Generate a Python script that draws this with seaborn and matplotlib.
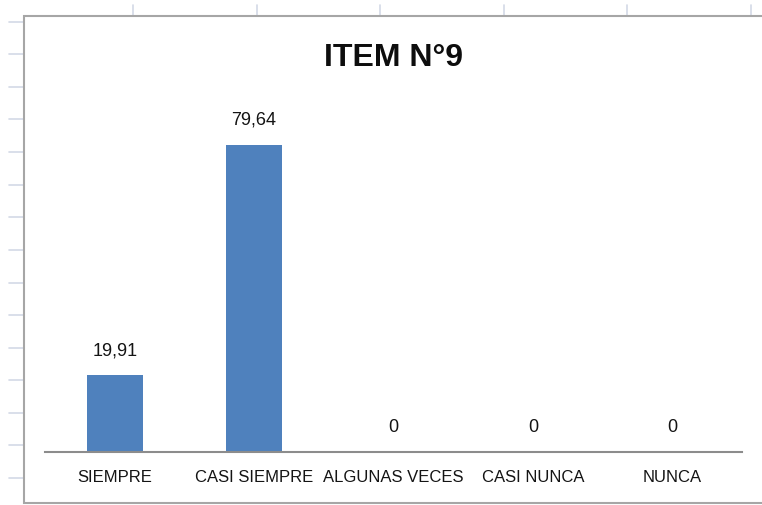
import matplotlib
matplotlib.use("Agg")
import matplotlib.pyplot as plt
from matplotlib.lines import Line2D
from matplotlib.patches import Rectangle
import seaborn as sns
import pandas as pd

categories = ["SIEMPRE", "CASI SIEMPRE", "ALGUNAS VECES", "CASI NUNCA", "NUNCA"]
values = [19.91, 79.64, 0, 0, 0]
value_labels = ["19,91", "79,64", "0", "0", "0"]
title = "ITEM N°9"

sns.set_theme(style="white")
plt.rcParams['font.family'] = ['Liberation Sans Narrow', 'Liberation Sans', 'DejaVu Sans']

W, H = 762, 505
fig = plt.figure(figsize=(W / 100, H / 100), dpi=100)
fig.patch.set_facecolor("white")

def fx(x):
    return x / W

def fy(y):
    return 1 - y / H

# spreadsheet grid stubs
grid_c = "#d3d9e6"
for x in [133, 257, 380, 504, 627, 751]:
    fig.add_artist(Line2D([fx(x), fx(x)], [fy(5), fy(16)], color=grid_c, lw=1.2, zorder=-2))
for y in [22, 54, 87, 119, 152, 185, 217, 250, 283, 315, 348, 380, 413, 445, 478]:
    fig.add_artist(Line2D([fx(9), fx(24)], [fy(y), fy(y)], color=grid_c, lw=1.2, zorder=-2))

# chart area frame
fig.add_artist(Rectangle((fx(24), fy(503)), fx(762 + 10 - 24), fy(16) - fy(503),
                         facecolor="white", edgecolor="#a6a6a6", lw=1.5, zorder=-1))

ax = fig.add_axes([fx(45), fy(452), fx(742 - 45), fy(100) - fy(452)])
ax.set_facecolor("none")
ax.set_zorder(1)

df = pd.DataFrame({"cat": categories, "val": values})
sns.barplot(data=df, x="cat", y="val", color="#4f81bd", saturation=1, width=0.4,
            linewidth=0, ax=ax)

ax.set_ylim(0, 91.2)
ax.set_xlim(-0.5, 4.5)
for s in ["left", "right", "top"]:
    ax.spines[s].set_visible(False)
ax.spines["bottom"].set_color("#8c8c8c")
ax.spines["bottom"].set_linewidth(1.5)
ax.set_yticks([])
ax.set_xlabel("")
ax.set_ylabel("")
ax.tick_params(axis="x", length=0, pad=13, labelsize=12, labelcolor="#141414")

for i, (v, lab) in enumerate(zip(values, value_labels)):
    ax.annotate(lab, (i, v), xytext=(0, 11.5), textcoords="offset points",
                ha="center", va="bottom", fontsize=13, color="#141414")

fig.text(fx(393), fy(58), title, ha="center", va="center", fontsize=23,
         fontweight="bold", color="#0d0d0d")

fig.savefig("out.png", dpi=100, facecolor=fig.get_facecolor())
